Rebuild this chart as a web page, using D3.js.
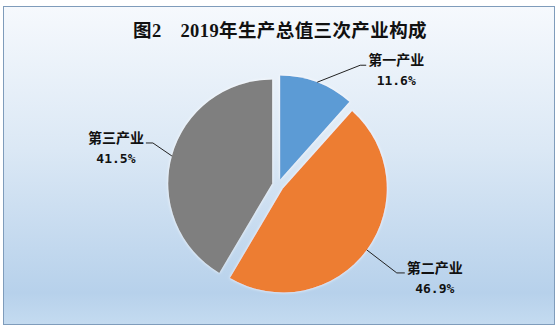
<!DOCTYPE html>
<html><head><meta charset="utf-8">
<script src="https://cdn.jsdelivr.net/npm/d3@7"></script>
<style>html,body{margin:0;padding:0;background:#fff;}svg{display:block;}</style>
</head><body>
<script>
// ---- data ----
const title = "图2\u30002019年生产总值三次产业构成";
const categories = ["第一产业", "第二产业", "第三产业"];
const values = [11.6, 46.9, 41.5];
const colors = ["#5b9bd5", "#ed7d31", "#7f7f7f"];
// label layout: elbow offset from slice edge anchor, and horizontal tail length (sign = direction)
const labelElbow = [[43, -17], [30, 23], [-19, -13]];
const labelTail = [6, 8, -7];

const W = 560, H = 334;
const cx = 278, cy = 185, R = 104, explode = 6;

const svg = d3.select("body").append("svg").attr("width", W).attr("height", H);
const defs = svg.append("defs");
const grad = defs.append("linearGradient").attr("id", "bg").attr("x1", 0).attr("y1", 0).attr("x2", 0).attr("y2", 1);
[[0, "#f6f9fd"], [0.45, "#dbe8f5"], [0.9, "#b7d1eb"], [1, "#c4dbf0"]].forEach(([o, c]) =>
  grad.append("stop").attr("offset", o).attr("stop-color", c));
const glow = defs.append("filter").attr("id", "glow").attr("x", "-10%").attr("y", "-10%").attr("width", "120%").attr("height", "120%");
glow.append("feDropShadow").attr("dx", 0).attr("dy", 0).attr("stdDeviation", 1.6)
  .attr("flood-color", "#ffffff").attr("flood-opacity", 0.9);

svg.append("rect").attr("x", 3.5).attr("y", 6.5).attr("width", 551).attr("height", 318)
  .attr("fill", "url(#bg)").attr("stroke", "#7f9cbb").attr("stroke-width", 1);

svg.append("text").attr("x", 280).attr("y", 37).attr("text-anchor", "middle")
  .attr("font-family", "'Liberation Serif','Noto Sans CJK SC',serif")
  .attr("font-weight", "bold").attr("font-size", 18.5).attr("letter-spacing", 0.4).attr("fill", "#111")
  .text(title);

const pie = d3.pie().sort(null).value(d => d)(values);
const arc = d3.arc().innerRadius(0).outerRadius(R);

const g = svg.append("g").attr("transform", `translate(${cx},${cy})`);
pie.forEach((p, i) => {
  const mid = (p.startAngle + p.endAngle) / 2;
  const ox = Math.sin(mid) * explode, oy = -Math.cos(mid) * explode;
  g.append("path").attr("d", arc(p)).attr("transform", `translate(${ox},${oy})`)
    .attr("fill", colors[i]).attr("filter", "url(#glow)");

  // leader line
  const ax = ox + Math.sin(mid) * R, ay = oy - Math.cos(mid) * R;
  const ex = ax + labelElbow[i][0], ey = ay + labelElbow[i][1];
  const tx = ex + labelTail[i];
  g.append("polyline").attr("points", `${ax},${ay} ${ex},${ey} ${tx},${ey}`)
    .attr("fill", "none").attr("stroke", "#222").attr("stroke-width", 1);
  const dir = Math.sign(labelTail[i]);
  const lx = tx + dir * 30;
  g.append("text").attr("x", lx).attr("y", ey).attr("text-anchor", "middle")
    .attr("font-family", "'Noto Sans CJK SC',sans-serif").attr("font-weight", "bold")
    .attr("font-size", 14).attr("fill", "#111").text(categories[i]);
  g.append("text").attr("x", lx).attr("y", ey + 20).attr("text-anchor", "middle")
    .attr("font-family", "'DejaVu Sans Mono',monospace").attr("font-weight", "bold")
    .attr("font-size", 13).attr("fill", "#111").text(values[i].toFixed(1) + "%");
});
</script>
</body></html>
